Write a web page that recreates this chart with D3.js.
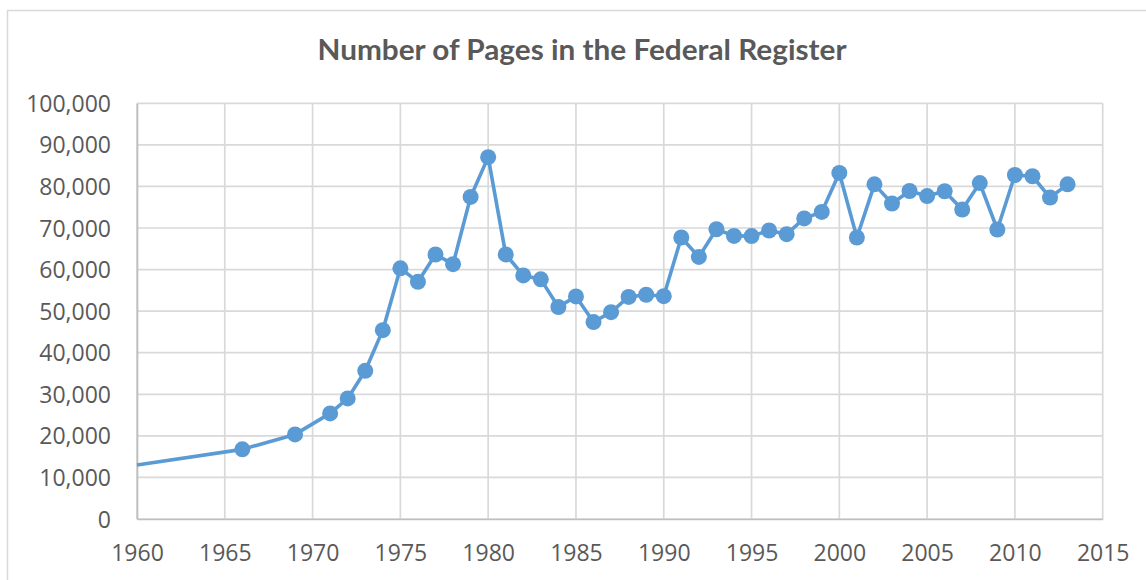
<!DOCTYPE html>
<html>
<head>
<meta charset="utf-8">
<script src="https://cdn.jsdelivr.net/npm/d3@7"></script>
<style>
  html, body { margin: 0; padding: 0; background: #fff; }
  svg { display: block; }
</style>
</head>
<body>
<svg id="chart" width="1146" height="580"></svg>
<script>
// ---- data ----
const title = "Number of Pages in the Federal Register";
const years = [1960, 1966, 1969, 1971, 1972, 1973, 1974, 1975, 1976, 1977, 1978, 1979, 1980,
  1981, 1982, 1983, 1984, 1985, 1986, 1987, 1988, 1989, 1990, 1991, 1992, 1993, 1994, 1995,
  1996, 1997, 1998, 1999, 2000, 2001, 2002, 2003, 2004, 2005, 2006, 2007, 2008, 2009, 2010,
  2011, 2012, 2013];
const pages = [13000, 16750, 20350, 25400, 29000, 35650, 45430, 60300, 57050, 63630, 61300, 77480, 87050,
  63650, 58600, 57650, 51000, 53550, 47380, 49750, 53420, 53950, 53600, 67720, 63050, 69700, 68100, 68050,
  69400, 68520, 72300, 73870, 83250, 67720, 80500, 75880, 78900, 77680, 78850, 74450, 80800, 69640, 82750,
  82450, 77330, 80500];
// years with a visible marker (the line enters from the left edge without a marker at 1960)
const markerYears = years.slice(1);
const xTicks = [1960, 1965, 1970, 1975, 1980, 1985, 1990, 1995, 2000, 2005, 2010, 2015];
const yTicks = [0, 10000, 20000, 30000, 40000, 50000, 60000, 70000, 80000, 90000, 100000];

(function () {
// ---- layout ----
const svg = d3.select("#chart");
const pLeft = 137, pRight = 1102.7, pTop = 103.3, pBottom = 519;
const x = d3.scaleLinear().domain([1960, 2015]).range([pLeft, pRight]);
const y = d3.scaleLinear().domain([0, 100000]).range([pBottom, pTop]);
const gridColor = "#d9d9d9";
const textColor = "#595959";
const lineColor = "#5b9bd5";
const font = "'Open Sans', 'Liberation Sans', sans-serif";

// outer chart border
svg.append("rect")
  .attr("x", 7.5).attr("y", 10.5).attr("width", 1200).attr("height", 700)
  .attr("fill", "#fff").attr("stroke", gridColor).attr("stroke-width", 1.5);

// title
svg.append("text")
  .attr("x", 582).attr("y", 60)
  .attr("text-anchor", "middle")
  .attr("font-family", "Lato, 'Open Sans', sans-serif")
  .attr("font-weight", "bold")
  .attr("font-size", 28)
  .attr("fill", textColor)
  .attr("textLength", 529)
  .attr("lengthAdjust", "spacingAndGlyphs")
  .text(title);

// gridlines
const grid = svg.append("g");
grid.selectAll("line.h").data(yTicks).join("line")
  .attr("class", "h")
  .attr("x1", pLeft).attr("x2", pRight)
  .attr("y1", d => y(d)).attr("y2", d => y(d))
  .attr("stroke", gridColor).attr("stroke-width", 1.7);
grid.selectAll("line.v").data(xTicks).join("line")
  .attr("class", "v")
  .attr("y1", pTop).attr("y2", pBottom)
  .attr("x1", d => x(d)).attr("x2", d => x(d))
  .attr("stroke", gridColor).attr("stroke-width", 1.7);

// axes
const yAxis = svg.append("g")
  .attr("transform", `translate(${pLeft},0)`)
  .call(d3.axisLeft(y).tickValues(yTicks).tickSize(0).tickPadding(26)
    .tickFormat(d3.format(",")));
yAxis.select(".domain").attr("stroke", "#bfbfbf").attr("stroke-width", 1.7);
yAxis.selectAll("text")
  .attr("font-family", font).attr("font-size", 23).attr("fill", textColor)
  .attr("dy", "0.35em");

const xAxis = svg.append("g")
  .attr("transform", `translate(0,${pBottom})`)
  .call(d3.axisBottom(x).tickValues(xTicks).tickSize(0).tickPadding(26)
    .tickFormat(d3.format("d")));
xAxis.select(".domain").attr("stroke", "#bfbfbf").attr("stroke-width", 1.7);
xAxis.selectAll("text")
  .attr("font-family", font).attr("font-size", 23).attr("fill", textColor);

// series
const data = years.map((yr, i) => ({ year: yr, value: pages[i] }));
const line = d3.line().x(d => x(d.year)).y(d => y(d.value));
svg.append("path")
  .datum(data)
  .attr("d", line)
  .attr("fill", "none")
  .attr("stroke", lineColor)
  .attr("stroke-width", 3.6)
  .attr("stroke-linejoin", "round");

svg.append("g").selectAll("circle")
  .data(data.filter(d => markerYears.includes(d.year)))
  .join("circle")
  .attr("cx", d => x(d.year))
  .attr("cy", d => y(d.value))
  .attr("r", 8)
  .attr("fill", lineColor);
})();
</script>
</body>
</html>
